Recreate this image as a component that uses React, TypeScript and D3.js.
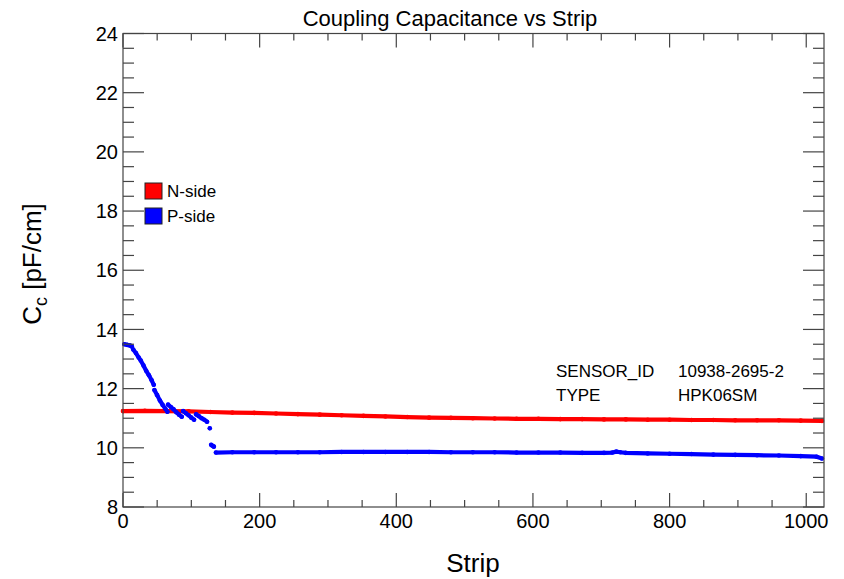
import React from "react";
import * as d3 from "d3";

const TITLE = "Coupling Capacitance vs Strip";
const X_LABEL = "Strip";
const X_MAJOR = [0, 200, 400, 600, 800, 1000];
const Y_MAJOR = [8, 10, 12, 14, 16, 18, 20, 22, 24];

const nStrips = [0, 32, 64, 96, 128, 160, 192, 224, 256, 288, 320, 352, 384, 416, 448, 480, 512, 544, 576, 608, 640, 672, 704, 736, 768, 800, 832, 864, 896, 928, 960, 992, 1023];
const nValues = [11.24, 11.25, 11.24, 11.23, 11.21, 11.19, 11.18, 11.16, 11.14, 11.12, 11.10, 11.08, 11.06, 11.04, 11.02, 11.01, 11.00, 10.99, 10.98, 10.98, 10.97, 10.97, 10.96, 10.96, 10.95, 10.95, 10.94, 10.94, 10.93, 10.93, 10.93, 10.92, 10.91];

// NaN marks a break between runs of points
const pStrips = [2, 6, 10, 13, NaN, 15, 19, 23, 26, 30, 34, 38, 42, 45, NaN, 46, 50, 54, 58, 62, 65, NaN, 66, 70, 74, 78, 82, 86, NaN, 88, 92, 96, 100, 104, NaN, 107, 111, 115, 119, 123, NaN, 127, NaN, 129, 131, 133, NaN, 136, 160, 192, 224, 256, 288, 320, 352, 384, 416, 448, 480, 512, 544, 576, 608, 640, 672, 704, 716, 722, 728, 736, 768, 800, 832, 864, 896, 928, 960, 992, 1015, 1023];
const pValues = [13.50, 13.48, 13.46, 13.42, NaN, 13.32, 13.20, 13.05, 12.95, 12.78, 12.60, 12.45, 12.28, 12.13, NaN, 11.95, 11.78, 11.60, 11.45, 11.32, 11.22, NaN, 11.46, 11.38, 11.30, 11.20, 11.12, 11.05, NaN, 11.24, 11.17, 11.10, 11.02, 10.95, NaN, 11.13, 11.07, 11.00, 10.95, 10.88, NaN, 10.66, NaN, 10.10, 10.07, 10.04, NaN, 9.84, 9.85, 9.85, 9.85, 9.85, 9.85, 9.86, 9.86, 9.86, 9.86, 9.86, 9.85, 9.85, 9.85, 9.84, 9.84, 9.84, 9.83, 9.83, 9.84, 9.87, 9.85, 9.83, 9.81, 9.80, 9.79, 9.77, 9.76, 9.75, 9.74, 9.72, 9.70, 9.64];

const LEGEND = ["N-side", "P-side"];
const COLORS = ["#ff0000", "#0000ff"];
const INFO_KEYS = ["SENSOR_ID", "TYPE"];
const INFO_VALUES = ["10938-2695-2", "HPK06SM"];

const W = 844;
const H = 579;
const L = 123;
const R = 824;
const T = 33.5;
const B = 507;
const FONT = "'Liberation Sans', Arial, Helvetica, sans-serif";
const AX = "#444";

export default function App() {
  const x = d3.scaleLinear().domain([0, 1026]).range([L, R]);
  const y = d3.scaleLinear().domain([8, 24]).range([B, T]);

  const xMinor = d3.range(0, 1026, 50).filter((v) => v % 200 !== 0);
  const yMinor = d3.range(8, 24, 0.5).filter((v) => v % 2 !== 0);

  const series = [
    nStrips.map((s, i) => [s, nValues[i]] as [number, number]),
    pStrips.map((s, i) => [s, pValues[i]] as [number, number]),
  ];
  const line = d3
    .line<[number, number]>()
    .defined((d) => !isNaN(d[0]) && !isNaN(d[1]))
    .x((d) => x(d[0]))
    .y((d) => y(d[1]));

  return (
    <svg
      width={W}
      height={H}
      style={{ position: "absolute", left: 0, top: 0, background: "#fff" }}
      fontFamily={FONT}
    >
      <rect x={0} y={0} width={W} height={H} fill="#fff" />
      <text x={450} y={26} fontSize={22} textAnchor="middle" fill="#000">
        {TITLE}
      </text>

      {/* data */}
      {series.map((d, i) => (
        <g key={i}>
          <path d={line(d) || ""} fill="none" stroke={COLORS[i]} strokeWidth={4.2} strokeLinecap="round" />
          {d
            .filter((p) => !isNaN(p[0]))
            .map((p, j) => (
              <circle key={j} cx={x(p[0])} cy={y(p[1])} r={2.3} fill={COLORS[i]} />
            ))}
        </g>
      ))}

      {/* frame */}
      <rect x={L} y={T} width={R - L} height={B - T} fill="none" stroke={AX} strokeWidth={1.2} />

      {/* x ticks bottom & top */}
      {X_MAJOR.map((v) => (
        <g key={"xm" + v}>
          <line x1={x(v)} x2={x(v)} y1={B} y2={B - 14} stroke={AX} strokeWidth={1.2} />
          <line x1={x(v)} x2={x(v)} y1={T} y2={T + 14} stroke={AX} strokeWidth={1.2} />
          <text x={x(v)} y={528} fontSize={20} textAnchor="middle" fill="#000">
            {v}
          </text>
        </g>
      ))}
      {xMinor.map((v) => (
        <g key={"xn" + v}>
          <line x1={x(v)} x2={x(v)} y1={B} y2={B - 7} stroke={AX} strokeWidth={1.2} />
          <line x1={x(v)} x2={x(v)} y1={T} y2={T + 7} stroke={AX} strokeWidth={1.2} />
        </g>
      ))}

      {/* y ticks left & right */}
      {Y_MAJOR.map((v) => (
        <g key={"ym" + v}>
          <line x1={L} x2={L + 21} y1={y(v)} y2={y(v)} stroke={AX} strokeWidth={1.2} />
          <line x1={R} x2={R - 21} y1={y(v)} y2={y(v)} stroke={AX} strokeWidth={1.2} />
          <text x={118} y={y(v)} dy="0.36em" fontSize={20} textAnchor="end" fill="#000">
            {v}
          </text>
        </g>
      ))}
      {yMinor.map((v) => (
        <g key={"yn" + v}>
          <line x1={L} x2={L + 11} y1={y(v)} y2={y(v)} stroke={AX} strokeWidth={1.2} />
          <line x1={R} x2={R - 11} y1={y(v)} y2={y(v)} stroke={AX} strokeWidth={1.2} />
        </g>
      ))}

      {/* axis titles */}
      <text x={473} y={572} fontSize={26} textAnchor="middle" fill="#000">
        {X_LABEL}
      </text>
      <text transform="translate(41,264) rotate(-90)" fontSize={26} textAnchor="middle" fill="#000">
        C
        <tspan fontSize={18} dy={6}>c</tspan>
        <tspan dy={-6}> [pF/cm]</tspan>
      </text>

      {/* legend */}
      {LEGEND.map((name, i) => (
        <g key={name}>
          <rect x={145} y={183 + i * 25} width={17} height={16} fill={COLORS[i]} stroke="#222" strokeWidth={1} />
          <text x={167} y={197 + i * 25} fontSize={17} fill="#000">
            {name}
          </text>
        </g>
      ))}

      {/* info */}
      {INFO_KEYS.map((k, i) => (
        <g key={k}>
          <text x={556} y={377 + i * 24} fontSize={17} fill="#000">
            {k}
          </text>
          <text x={678} y={377 + i * 24} fontSize={17} fill="#000">
            {INFO_VALUES[i]}
          </text>
        </g>
      ))}
    </svg>
  );
}
